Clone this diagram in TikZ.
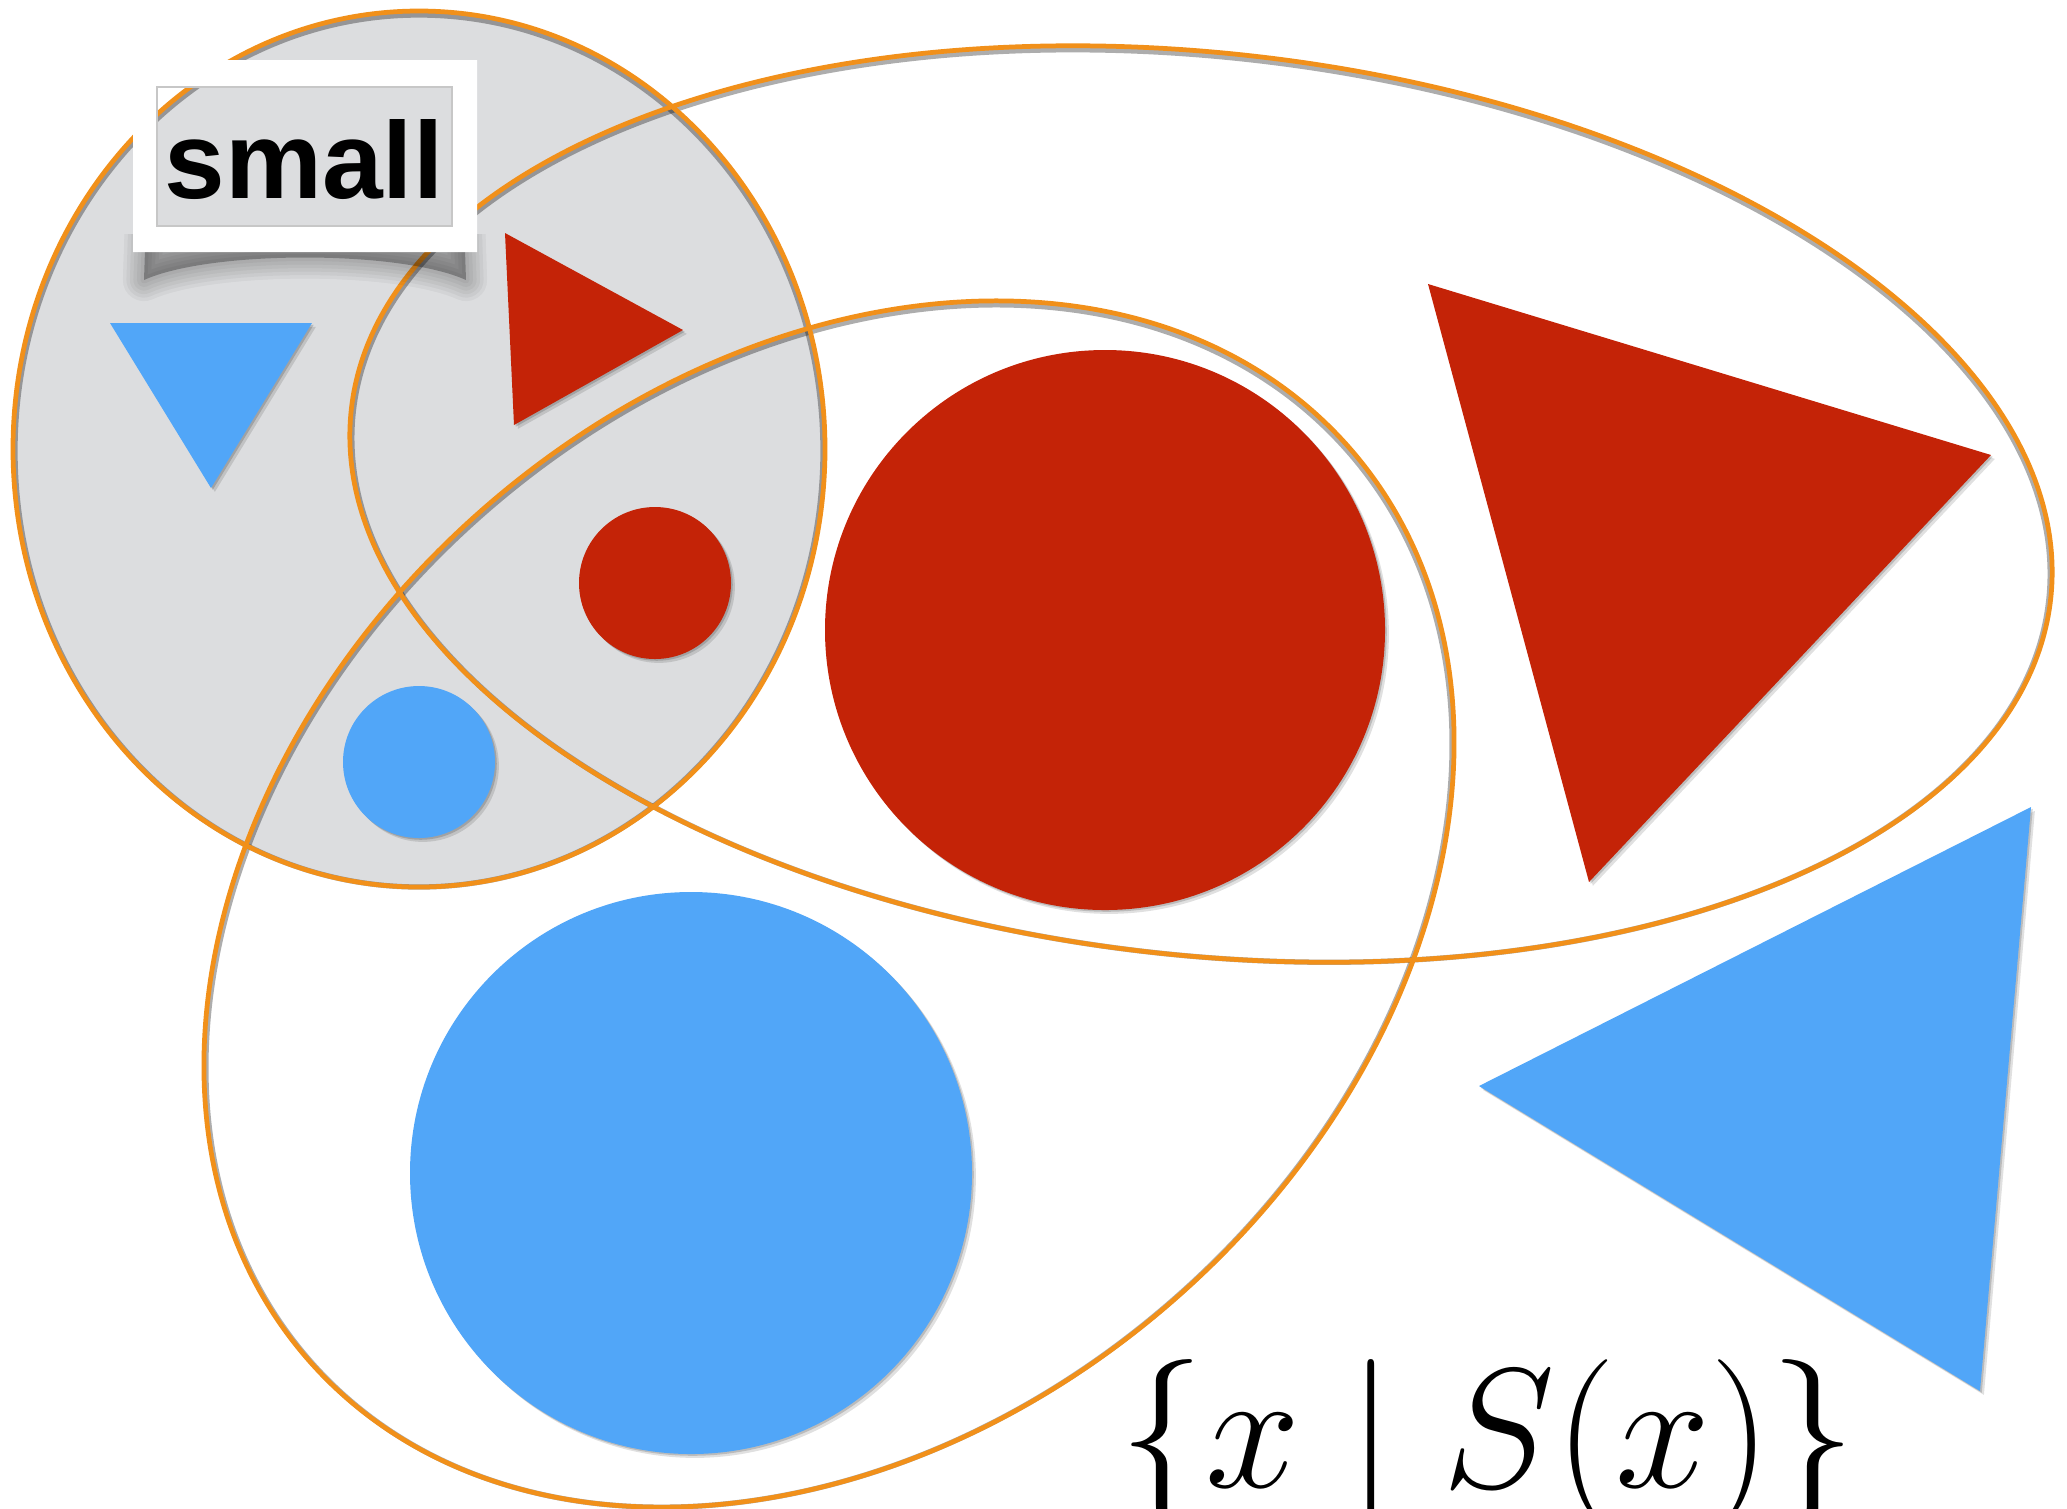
\documentclass[tikz,border=0pt]{standalone}
\usepackage{fontspec}
\newfontfamily\labelfont{Liberation Sans}
\definecolor{setorange}{RGB}{241,144,26}
\definecolor{shapered}{RGB}{196,35,7}
\definecolor{shapeblue}{RGB}{81,166,248}
\definecolor{smallgrey}{RGB}{220,221,223}
\tikzset{
  setline/.style={draw=setorange, line width=1.35pt},
  setshade/.style={draw=black, draw opacity=0.32, line width=1.5pt},
  softshadow/.style={preaction={fill=black, fill opacity=0.12, transform canvas={xshift=1.1pt,yshift=-1.1pt}},
     preaction={fill=black, fill opacity=0.16, transform canvas={xshift=0.5pt,yshift=-0.5pt}}},
  redshape/.style={fill=shapered, softshadow},
  blueshape/.style={fill=shapeblue, softshadow},
}
\begin{document}
\begin{tikzpicture}[x=0.01cm,y=-0.01cm]
\useasboundingbox (0,0) rectangle (2067,1508);
\fill[white] (0,0) rectangle (2067,1508);
% grey set
\fill[smallgrey] (419,449) ellipse[x radius=406, y radius=438];
% shapes
\path[blueshape] (110,323) -- (312,323) -- (211,488) -- cycle;
\path[redshape] (505,233) -- (683,330) -- (514,425) -- cycle;
\path[redshape] (655,583) circle[radius=76];
\path[blueshape] (419,762) circle[radius=76];
\path[redshape] (1105,630) circle[radius=280];
\path[redshape] (1428,284) -- (1991,455) -- (1589,882) -- cycle;
\path[blueshape] (1479,1086) -- (2031,807) -- (1980,1391) -- cycle;
\path[blueshape] (691,1173) circle[radius=281];
% set outline shades
\draw[setshade] (419,451) ellipse[x radius=404, y radius=436];
\draw[setshade, rotate around={-6.38:(1201,506)}] (1201,506) ellipse[x radius=853, y radius=449];
\draw[setshade, rotate around={41.2:(829,906)}] (829,906) ellipse[x radius=690, y radius=523];
% set outlines
\draw[setline] (419,449) ellipse[x radius=406, y radius=438];
\draw[setline, rotate around={-6.38:(1201,504)}] (1201,504) ellipse[x radius=855, y radius=451];
\draw[setline, rotate around={41.2:(829,904)}] (829,904) ellipse[x radius=692, y radius=525];
% label box shadow (curled, soft)
\begin{scope}
  \clip (0,234) rectangle (700,340);
  \fill[black, fill opacity=0.27] (146,220) -- (464,220) -- (466,280) .. controls (400,250) and (210,250) .. (144,280) -- cycle;
  \foreach \w in {12,10,8,6,4,2}
    \draw[black, draw opacity=0.04, line width=\w pt, line join=round] (146,220) -- (464,220) -- (466,280) .. controls (400,250) and (210,250) .. (144,280) -- cycle;
\end{scope}
% label frame
\fill[white, even odd rule] (133,60) rectangle (477,252) (157,87) rectangle (452,226);
\draw[black!22, line width=0.35pt] (157,87) rectangle (452,226);
\node[anchor=base, inner sep=0pt] (lbl) at (304,198) {\labelfont\bfseries\fontsize{31}{31}\selectfont small};
% set-builder text
\node[anchor=base, inner sep=0pt, scale=1.95] (setexpr) at (1488,1487) {\Huge$\{x \mid S(x)\}$};
\end{tikzpicture}
\end{document}
